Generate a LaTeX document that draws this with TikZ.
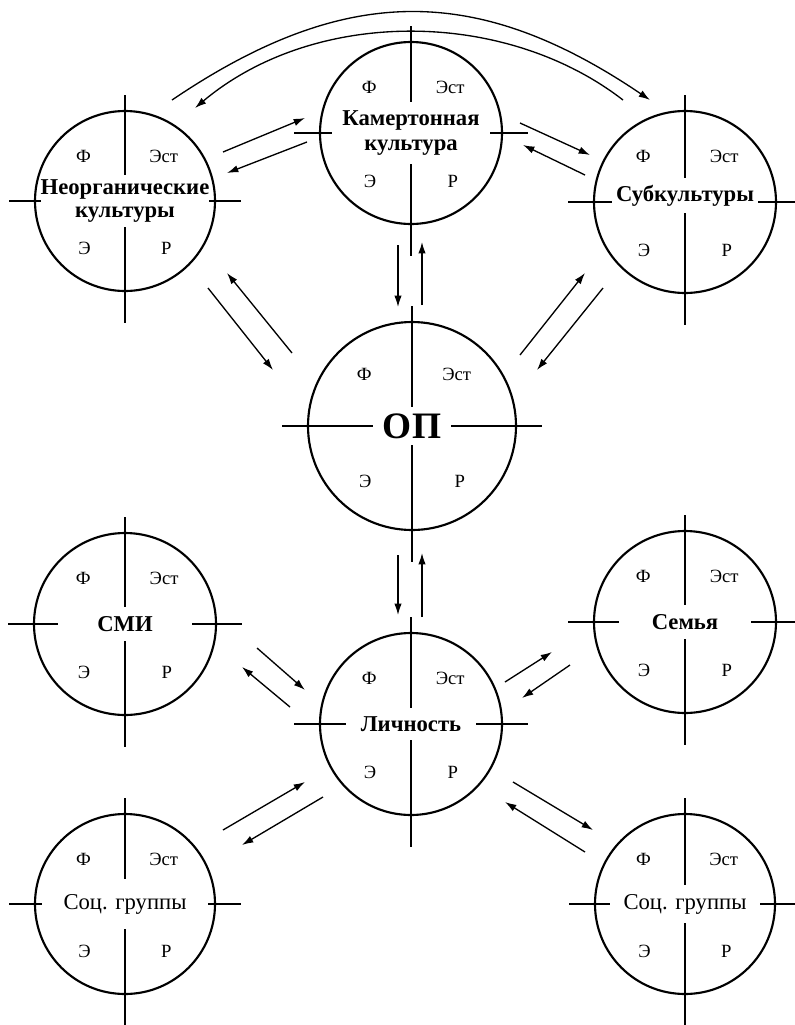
\documentclass[tikz,border=0pt]{standalone}
\usepackage{fontspec}
\setmainfont{Liberation Serif}
\usetikzlibrary{calc,arrows.meta}

% один круг: имя, центр, радиус, подпись, стиль подписи
\newcommand{\krug}[5]{%
  \coordinate (#1) at (#2);
  \draw[cross] ($(#1)+(-#3-26,0)$) -- ($(#1)+(#3+26,0)$);
  \draw[cross] ($(#1)+(0,-#3-16)$) -- ($(#1)+(0,#3+32)$);
  \node[gap,#5] (#1-t) at (#1) {#4};
  \node[rim,minimum size={#3*1.5pt}] (#1-c) at (#1) {};
  \node[quad] (#1-f)   at ($(#1)+(-0.46*#3,-0.5*#3)$) {Ф};
  \node[quad] (#1-est) at ($(#1)+(0.43*#3,-0.5*#3)$)  {Эст};
  \node[quad] (#1-e)   at ($(#1)+(-0.45*#3,0.53*#3)$) {Э};
  \node[quad] (#1-r)   at ($(#1)+(0.46*#3,0.53*#3)$)  {Р};
}

\begin{document}
\begin{tikzpicture}[x=0.75pt, y=-0.75pt, >={Latex[length=8.5pt,width=5.5pt]},
    cross/.style={line width=1pt},
    rim/.style={circle, draw, line width=1.6pt, inner sep=0pt},
    gap/.style={fill=white, inner sep=0pt, align=center,
                font=\fontsize{17}{17}\selectfont\bfseries},
    quad/.style={inner sep=0pt, font=\fontsize{14}{14}\selectfont},
    link/.style={->, line width=1pt}]

    \useasboundingbox (0,0) rectangle (794,1025);

% Круги

    \krug{neorg}{125,201}{90}{Неорганические\\культуры}{minimum width=124pt, minimum height=39pt}
    \krug{kamert}{411,133}{91}{Камертонная\\культура}{minimum width=118pt, minimum height=47pt, font=\fontsize{17}{19}\selectfont\bfseries}
    \krug{subk}{685,202}{91}{Субкультуры}{minimum width=110pt, minimum height=26pt, yshift=5pt}
    \krug{op}{412,426}{104}{ОП}{minimum width=58pt, minimum height=28pt, font=\fontsize{28}{28}\selectfont\bfseries}
    \krug{smi}{125,624}{91}{СМИ}{minimum width=100pt, minimum height=25pt}
    \krug{lichn}{411,724}{91}{Личность}{minimum width=97pt, minimum height=24pt}
    \krug{semya}{685,622}{91}{Семья}{minimum width=99pt, minimum height=25pt}
    \krug{socl}{125,904}{90}{Соц. группы}{minimum width=124pt, minimum height=37pt, font=\fontsize{17}{17}\selectfont}
    \krug{socr}{685,904}{90}{Соц. группы}{minimum width=112pt, minimum height=28pt, font=\fontsize{17}{17}\selectfont}

% Дуги сверху

    \draw[link] ($(neorg)+(47,-101)$) .. controls +(173,-117) and +(-173,-117) .. ($(subk)+(-35,-102)$);
    \draw[link] ($(subk)+(-62,-102)$) .. controls +(-119,-92) and +(119,-100) .. ($(neorg)+(70,-93)$);

% Стрелки верхнего ряда

    \draw[link] ($(neorg)+(98,-49)$) -- ($(kamert)+(-106,-15)$);
    \draw[link] ($(kamert)+(-104,9)$) -- ($(neorg)+(102,-28)$);
    \draw[link] ($(kamert)+(109,-10)$) -- ($(subk)+(-95,-47)$);
    \draw[link] ($(subk)+(-100,-27)$) -- ($(kamert)+(112,12)$);

% Стрелки к ОП

    \draw[link] ($(kamert)+(-13,112)$) -- ($(op)+(-14,-119)$);
    \draw[link] ($(op)+(10,-121)$) -- ($(kamert)+(11,109)$);
    \draw[link] ($(neorg)+(83,87)$) -- ($(op)+(-139,-56)$);
    \draw[link] ($(op)+(-120,-73)$) -- ($(neorg)+(102,72)$);
    \draw[link] ($(op)+(108,-71)$) -- ($(subk)+(-100,71)$);
    \draw[link] ($(subk)+(-82,86)$) -- ($(op)+(125,-56)$);
    \draw[link] ($(op)+(-14,129)$) -- ($(lichn)+(-13,-109)$);
    \draw[link] ($(lichn)+(11,-107)$) -- ($(op)+(10,127)$);

% Стрелки к Личности

    \draw[link] ($(smi)+(132,24)$) -- ($(lichn)+(-106,-34)$);
    \draw[link] ($(lichn)+(-121,-17)$) -- ($(smi)+(117,43)$);
    \draw[link] ($(lichn)+(94,-42)$) -- ($(semya)+(-133,30)$);
    \draw[link] ($(semya)+(-115,43)$) -- ($(lichn)+(111,-26)$);
    \draw[link] ($(socl)+(98,-74)$) -- ($(lichn)+(-106,58)$);
    \draw[link] ($(lichn)+(-88,73)$) -- ($(socl)+(117,-59)$);
    \draw[link] ($(lichn)+(102,58)$) -- ($(socr)+(-92,-74)$);
    \draw[link] ($(socr)+(-100,-52)$) -- ($(lichn)+(94,78)$);

\end{tikzpicture}
\end{document}
